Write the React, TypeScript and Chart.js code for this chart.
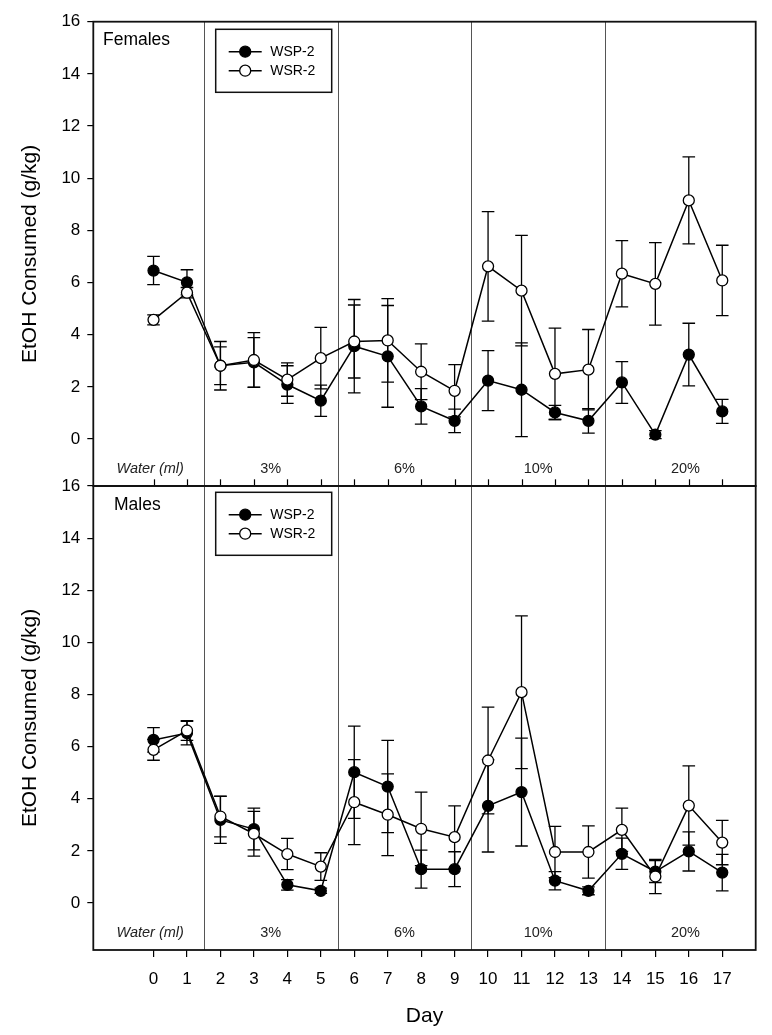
import React, { useEffect, useRef } from "react";
import { Chart, registerables } from "chart.js";

Chart.register(...registerables);

// ---------- data ----------
const days = [0, 1, 2, 3, 4, 5, 6, 7, 8, 9, 10, 11, 12, 13, 14, 15, 16, 17];
const yTicks = [0, 2, 4, 6, 8, 10, 12, 14, 16];
const seriesNames = ["WSP-2", "WSR-2"];
const phaseBreaks = [1.5, 5.5, 9.5, 13.5];
const phaseLabels = ["Water (ml)", "3%", "6%", "10%", "20%"];
const phaseLabelDays = [-0.1, 3.5, 7.5, 11.5, 15.9];

const femaleWSP = [6.46, 6.01, 2.81, 2.94, 2.09, 1.47, 3.56, 3.17, 1.25, 0.7, 2.24, 1.89, 1.02, 0.7, 2.17, 0.17, 3.24, 1.06];
const femaleWSPErr = [0.54, 0.48, 0.93, 0.95, 0.72, 0.6, 1.79, 1.95, 0.68, 0.45, 1.15, 1.8, 0.27, 0.47, 0.8, 0.15, 1.2, 0.46];
const femaleWSR = [4.57, 5.61, 2.81, 3.03, 2.28, 3.1, 3.74, 3.78, 2.58, 1.85, 6.62, 5.69, 2.5, 2.66, 6.34, 5.95, 9.15, 6.08];
const femaleWSRErr = [0.19, 0.2, 0.72, 1.05, 0.64, 1.18, 1.4, 1.6, 1.07, 1.0, 2.1, 2.12, 1.75, 1.54, 1.27, 1.58, 1.67, 1.35];

const maleWSP = [6.26, 6.52, 3.19, 2.84, 0.7, 0.47, 5.02, 4.47, 1.3, 1.3, 3.73, 4.26, 0.86, 0.47, 1.89, 1.21, 1.98, 1.17];
const maleWSPErr = [0.47, 0.45, 0.9, 0.8, 0.2, 0.1, 1.77, 1.77, 0.73, 0.67, 1.77, 2.07, 0.35, 0.15, 0.6, 0.42, 0.75, 0.7];
const maleWSR = [5.88, 6.62, 3.32, 2.66, 1.88, 1.4, 3.87, 3.39, 2.85, 2.53, 5.47, 8.09, 1.96, 1.96, 2.81, 1.02, 3.74, 2.32];
const maleWSRErr = [0.4, 0.38, 0.78, 0.86, 0.6, 0.53, 1.63, 1.57, 1.41, 1.2, 2.05, 2.93, 0.98, 1.0, 0.83, 0.66, 1.52, 0.85];

const FONT = '"Liberation Sans", Arial, Helvetica, sans-serif';
const PHASE_LABEL_Y = -1.15;

type PanelCfg = {
  title: string;
  wsp: number[];
  wspErr: number[];
  wsr: number[];
  wsrErr: number[];
  isBottom: boolean;
};

function makePanelPlugin(p: PanelCfg) {
  return {
    id: "panelDecor",
    beforeDatasetsDraw(chart: any) {
      const { ctx, chartArea: a, scales } = chart;
      const x = scales.x;
      const y = scales.y;
      ctx.save();
      // phase separators
      ctx.strokeStyle = "#555";
      ctx.lineWidth = 1;
      phaseBreaks.forEach((b) => {
        const px = Math.round(x.getPixelForValue(b)) + 0.5;
        ctx.beginPath();
        ctx.moveTo(px, a.top);
        ctx.lineTo(px, a.bottom);
        ctx.stroke();
      });
      // error bars
      ctx.strokeStyle = "#000";
      ctx.lineWidth = 1.3;
      const cap = 6.3;
      const groups: [number[], number[]][] = [
        [p.wsp, p.wspErr],
        [p.wsr, p.wsrErr],
      ];
      groups.forEach(([vals, errs]) => {
        vals.forEach((v, i) => {
          const px = x.getPixelForValue(days[i]);
          const hi = y.getPixelForValue(v + errs[i]);
          const lo = y.getPixelForValue(v - errs[i]);
          ctx.beginPath();
          ctx.moveTo(px, hi);
          ctx.lineTo(px, lo);
          ctx.moveTo(px - cap, hi);
          ctx.lineTo(px + cap, hi);
          ctx.moveTo(px - cap, lo);
          ctx.lineTo(px + cap, lo);
          ctx.stroke();
        });
      });
      ctx.restore();
    },
    afterDatasetsDraw(chart: any) {
      const { ctx, chartArea: a, scales } = chart;
      const x = scales.x;
      const y = scales.y;
      ctx.save();
      // frame
      ctx.strokeStyle = "#111";
      ctx.lineWidth = 1.8;
      ctx.strokeRect(a.left, a.top, a.right - a.left, a.bottom - a.top);
      // inward ticks on the bottom edge of the upper panel
      if (!p.isBottom) {
        ctx.lineWidth = 1.2;
        ctx.strokeStyle = "#000";
        days.forEach((d) => {
          const px = Math.round(x.getPixelForValue(d)) + 0.5;
          ctx.beginPath();
          ctx.moveTo(px, a.bottom);
          ctx.lineTo(px, a.bottom - 6.7);
          ctx.stroke();
        });
      }
      // phase labels
      ctx.fillStyle = "#222";
      ctx.textAlign = "center";
      ctx.textBaseline = "middle";
      phaseLabels.forEach((lab, i) => {
        ctx.font = (i === 0 ? "italic " : "") + "14.5px " + FONT;
        ctx.fillText(lab, x.getPixelForValue(phaseLabelDays[i]), y.getPixelForValue(PHASE_LABEL_Y));
      });
      // panel title
      ctx.fillStyle = "#000";
      ctx.textAlign = "left";
      ctx.font = "17.5px " + FONT;
      ctx.fillText(p.title, a.left + (p.isBottom ? 20.7 : 9.7), a.top + (p.isBottom ? 19.3 : 18.3));
      // legend
      const lx = a.left + 122.4;
      const ly = a.top + (p.isBottom ? 6.3 : 7.6);
      const lw = 116;
      const lh = 63;
      ctx.lineWidth = 1.5;
      ctx.strokeStyle = "#111";
      ctx.strokeRect(lx, ly, lw, lh);
      chart.data.datasets.forEach((ds: any, i: number) => {
        const yy = ly + 22.4 + i * 19;
        ctx.strokeStyle = "#000";
        ctx.lineWidth = 1.5;
        ctx.beginPath();
        ctx.moveTo(lx + 13, yy);
        ctx.lineTo(lx + 46, yy);
        ctx.stroke();
        ctx.beginPath();
        ctx.arc(lx + 29.5, yy, 5.5, 0, Math.PI * 2);
        ctx.fillStyle = ds.pointBackgroundColor;
        ctx.fill();
        ctx.lineWidth = 1.3;
        ctx.stroke();
        ctx.fillStyle = "#000";
        ctx.font = "14px " + FONT;
        ctx.textAlign = "left";
        ctx.textBaseline = "middle";
        ctx.fillText(ds.label, lx + 54.5, yy);
      });
      ctx.restore();
    },
  };
}

function buildChart(canvas: HTMLCanvasElement, p: PanelCfg) {
  const isBottom = p.isBottom;
  const common = {
    borderColor: "#000",
    borderWidth: 1.5,
    pointBorderColor: "#000",
    pointRadius: 5.5,
    pointHoverRadius: 5.5,
    pointBorderWidth: 1.3,
    tension: 0,
    showLine: true,
    fill: false,
  };
  return new Chart(canvas, {
    type: "line",
    data: {
      datasets: [
        {
          ...common,
          label: seriesNames[0],
          data: days.map((d, i) => ({ x: d, y: p.wsp[i] })),
          backgroundColor: "#000",
          pointBackgroundColor: "#000",
          order: 1,
        },
        {
          ...common,
          label: seriesNames[1],
          data: days.map((d, i) => ({ x: d, y: p.wsr[i] })),
          backgroundColor: "#fff",
          pointBackgroundColor: "#fff",
          order: 0,
        },
      ],
    },
    options: {
      responsive: false,
      animation: false,
      events: [],
      layout: {
        autoPadding: false,
        padding: { top: isBottom ? 16 : 21.7, right: 16.3, bottom: isBottom ? 0 : 1, left: 0 },
      },
      plugins: {
        legend: { display: false },
        tooltip: { enabled: false },
      },
      scales: {
        x: {
          type: "linear",
          min: -1.8,
          max: 18,
          display: true,
          afterBuildTicks: (s: any) => {
            s.ticks = days.map((v) => ({ value: v }));
          },
          afterFit: (s: any) => {
            s.height = isBottom ? 85 : 0;
            s.paddingLeft = 0;
            s.paddingRight = 0;
          },
          grid: {
            display: isBottom,
            drawOnChartArea: false,
            drawTicks: true,
            tickLength: 7,
            color: "#000",
            lineWidth: 1.2,
          },
          border: { display: false },
          ticks: {
            display: isBottom,
            font: { family: FONT, size: 17 },
            color: "#000",
            padding: 12,
            maxRotation: 0,
            autoSkip: false,
            callback: (v: any) => String(v),
          },
          title: {
            display: isBottom,
            text: "Day",
            color: "#000",
            font: { family: FONT, size: 21 },
            padding: { top: 0, bottom: 6 },
          },
        },
        y: {
          type: "linear",
          min: -1.8,
          max: 16,
          afterBuildTicks: (s: any) => {
            s.ticks = yTicks.map((v) => ({ value: v }));
          },
          afterFit: (s: any) => {
            s.width = 93.3;
            s.paddingTop = 0;
            s.paddingBottom = 0;
          },
          grid: {
            drawOnChartArea: false,
            drawTicks: true,
            tickLength: 6,
            color: "#000",
            lineWidth: 1.2,
          },
          border: { display: false },
          ticks: {
            font: { family: FONT, size: 17 },
            color: "#000",
            padding: 7,
            callback: (v: any) => String(v),
          },
          title: {
            display: true,
            text: "EtOH Consumed (g/kg)",
            color: "#000",
            font: { family: FONT, size: 21 },
            padding: { top: 18, bottom: 0 },
          },
        },
      },
    },
    plugins: [makePanelPlugin(p)],
  } as any);
}

export default function App() {
  const topRef = useRef<HTMLCanvasElement>(null);
  const botRef = useRef<HTMLCanvasElement>(null);

  useEffect(() => {
    const c1 = buildChart(topRef.current!, {
      title: "Females",
      wsp: femaleWSP,
      wspErr: femaleWSPErr,
      wsr: femaleWSR,
      wsrErr: femaleWSRErr,
      isBottom: false,
    });
    const c2 = buildChart(botRef.current!, {
      title: "Males",
      wsp: maleWSP,
      wspErr: maleWSPErr,
      wsr: maleWSR,
      wsrErr: maleWSRErr,
      isBottom: true,
    });
    return () => {
      c1.destroy();
      c2.destroy();
    };
  }, []);

  return (
    <div style={{ position: "absolute", left: 0, top: 0, width: 772, height: 1035, background: "#fff" }}>
      <canvas
        ref={topRef}
        width={772}
        height={487}
        style={{ position: "absolute", left: 0, top: 0, width: 772, height: 487, display: "block" }}
      />
      <canvas
        ref={botRef}
        width={772}
        height={565}
        style={{ position: "absolute", left: 0, top: 470, width: 772, height: 565, display: "block" }}
      />
    </div>
  );
}
